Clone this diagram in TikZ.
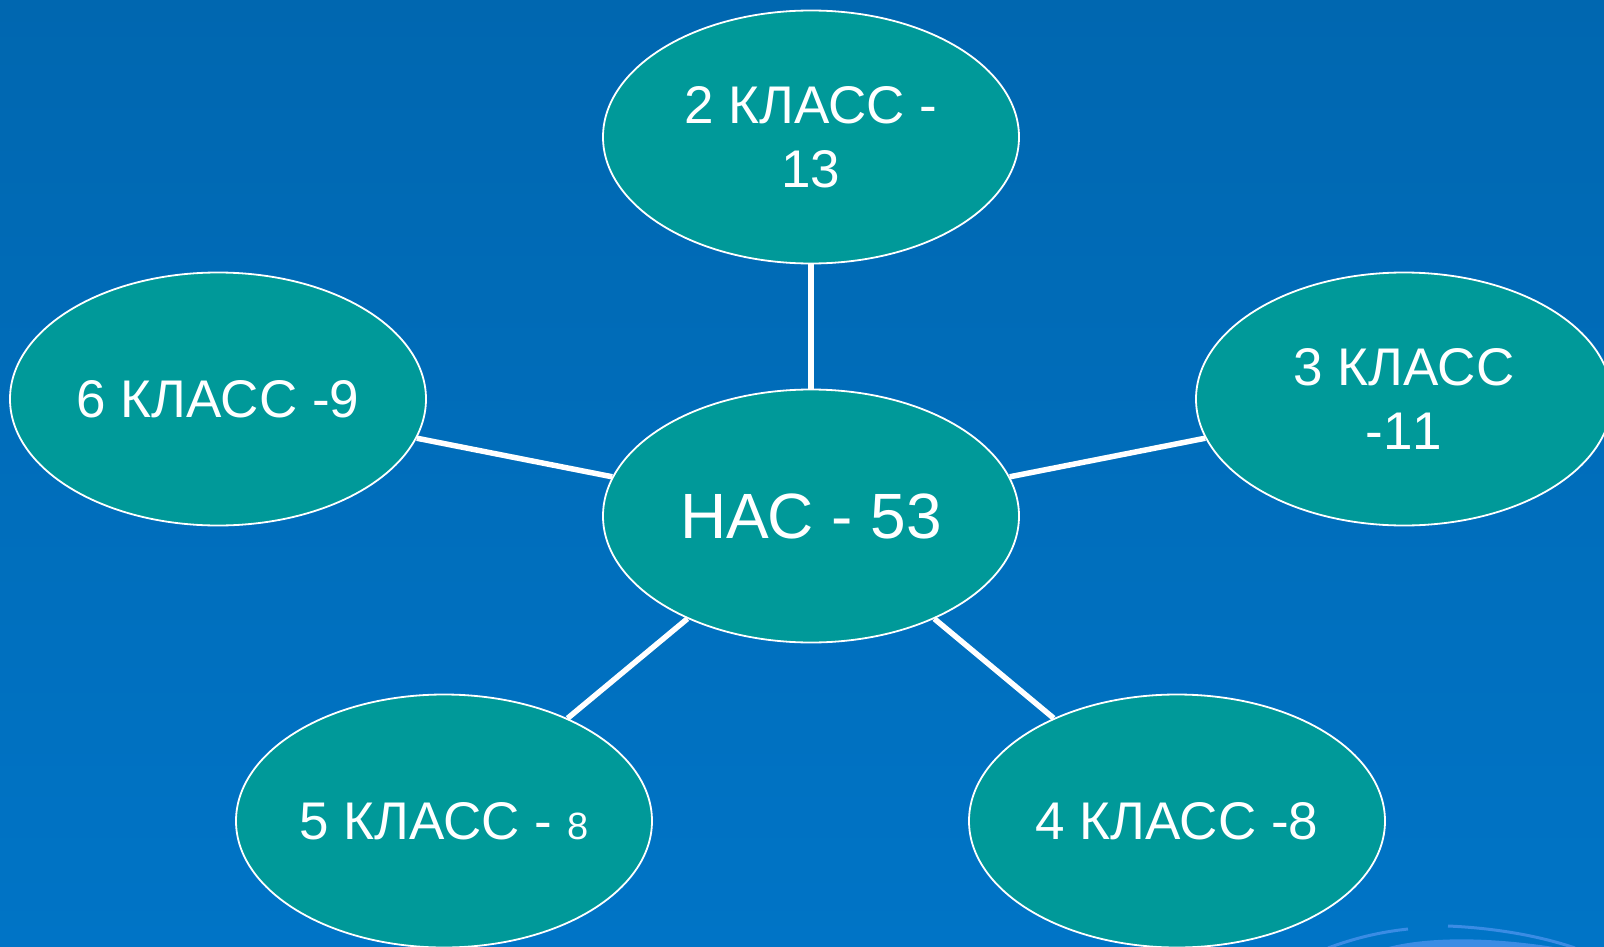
\documentclass[tikz,border=0pt]{standalone}
\usepackage{fontspec}
\setmainfont{Liberation Sans}
\usetikzlibrary{shapes.geometric}
\definecolor{bgtop}{RGB}{0,103,176}
\definecolor{bgbot}{RGB}{0,116,198}
\definecolor{teal}{RGB}{0,153,153}
\definecolor{deco}{RGB}{58,140,228}
\tikzset{
  bubble/.style={ellipse, draw=white, line width=1.8pt, fill=teal,
    minimum width=416pt, minimum height=253pt, inner sep=0pt,
    text=white, align=center, font=\fontsize{53}{64}\selectfont},
  link/.style={white, line width=5.5pt}
}
\begin{document}
\begin{tikzpicture}[x=1pt,y=-1pt]
\clip (0,0) rectangle (1604,947);
\shade[top color=bgtop, bottom color=bgbot] (0,0) rectangle (1604,947);
% decoration bottom right
\draw[deco, line width=3pt] (1328,948) .. controls (1355,938) and (1380,932) .. (1408,929);
\draw[deco, line width=3pt] (1448,926) .. controls (1495,928) and (1540,936) .. (1575,948);
\fill[deco] (1385,948) .. controls (1420,938) and (1480,935) .. (1560,948) -- cycle;
% nodes
\node[bubble, font=\fontsize{64}{76}\selectfont] (c) at (811,516) {НАС - 53};
\node[bubble] (n2) at (811,137) {2 КЛАСС -\\13};
\node[bubble] (n3) at (1404,399) {3 КЛАСС\\-1\kern0pt 1};
\node[bubble] (n4) at (1177,821) {4 КЛАСС -8};
\node[bubble] (n5) at (444,821) {5 КЛАСС - {\fontsize{38}{46}\selectfont 8}};
\node[bubble] (n6) at (218,399) {6 КЛАСС -9};
% links
\draw[link] (c) -- (n2);
\draw[link] (c) -- (n3);
\draw[link] (c) -- (n4);
\draw[link] (c) -- (n5);
\draw[link] (c) -- (n6);
\end{tikzpicture}
\end{document}
